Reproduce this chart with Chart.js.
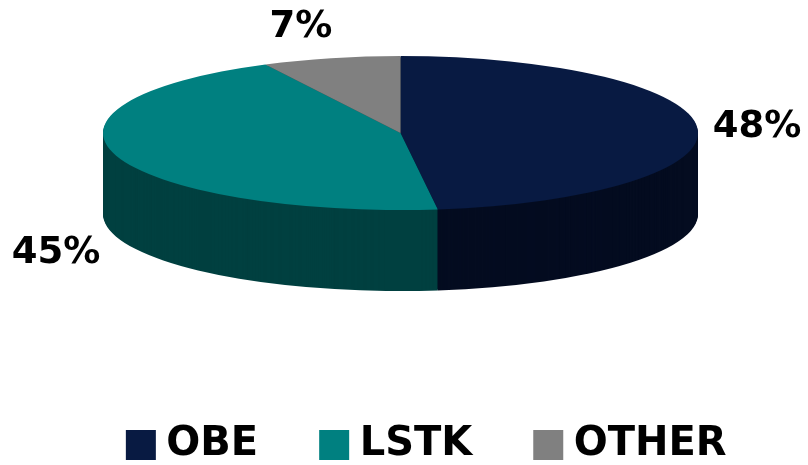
<!DOCTYPE html>
<html>
<head>
<meta charset="utf-8">
<style>html,body{margin:0;padding:0;background:#fff}#wrap{width:808px;height:465px;position:relative}</style>
<script src="https://cdn.jsdelivr.net/npm/chart.js@4"></script>
</head>
<body>
<div id="wrap"><canvas id="c" width="808" height="465"></canvas></div>
<script>
const categories = ['OBE', 'LSTK', 'OTHER'];
const values = [48, 44.5, 7.5];
const valueLabels = ['48%', '45%', '7%'];
const topColors = ['#081A42', '#008080', '#808080'];
const sideColors = ['#040C20', '#004040', '#404040'];

const FONT = '"DejaVu Sans", Verdana, sans-serif';
const CX = 400.5, CY = 133, RX = 297.5, SQUASH = 77 / 297.5, DEPTH = 81;
const labelPos = [[757, 127], [56, 253], [301, 27]];

const pie3d = {
  id: 'pie3d',
  beforeDatasetsDraw(chart) {
    const ctx = chart.ctx;
    const arcs = chart.getDatasetMeta(0).data;
    const a0 = arcs[0];
    const drawLayer = (dy, colors) => {
      ctx.save();
      ctx.translate(CX, CY + dy);
      ctx.scale(1, SQUASH);
      ctx.translate(-a0.x, -a0.y);
      arcs.forEach((arc, i) => {
        const saved = arc.options;
        arc.options = {backgroundColor: colors[i], borderColor: colors[i], borderWidth: 0,
          offset: 0, spacing: 0, borderRadius: 0, borderAlign: 'center', circular: true};
        arc.draw(ctx);
        arc.options = saved;
      });
      ctx.restore();
    };
    for (let d = DEPTH; d >= 1; d--) drawLayer(d, sideColors);
    drawLayer(0, topColors);
    return false;
  },
  afterDraw(chart) {
    const ctx = chart.ctx;
    ctx.save();
    ctx.fillStyle = '#000';
    ctx.font = 'bold 37px ' + FONT;
    ctx.textAlign = 'center';
    ctx.textBaseline = 'middle';
    valueLabels.forEach((t, i) => ctx.fillText(t, labelPos[i][0], labelPos[i][1]));
    ctx.restore();
  }
};

new Chart(document.getElementById('c'), {
  type: 'pie',
  data: {
    labels: categories,
    datasets: [{data: values, backgroundColor: topColors, borderWidth: 0, radius: RX, clip: false}]
  },
  plugins: [pie3d],
  options: {
    responsive: false,
    animation: false,
    events: [],
    layout: {padding: {top: 0, bottom: -10, left: 54, right: 0}},
    plugins: {
      tooltip: {enabled: false},
      legend: {
        position: 'bottom',
        align: 'center',
        labels: {
          boxWidth: 11,
          boxHeight: 11,
          padding: 70.5,
          color: '#000',
          font: {family: FONT, size: 40, weight: 'bold'},
          generateLabels: () => categories.map((t, i) => ({
            text: t, fillStyle: topColors[i], strokeStyle: topColors[i], lineWidth: 19, index: i, hidden: false
          }))
        }
      }
    }
  }
});
</script>
</body>
</html>
